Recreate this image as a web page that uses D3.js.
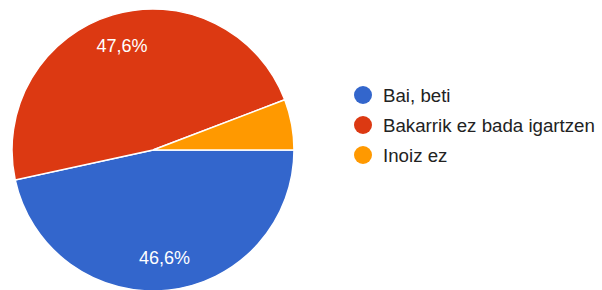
<!DOCTYPE html>
<html><head><meta charset="utf-8">
<script src="https://cdn.jsdelivr.net/npm/d3@7"></script>
<style>html,body{margin:0;padding:0;background:#fff;}svg{display:block;}</style>
</head><body>
<script>
const categories = ["Bai, beti", "Bakarrik ez bada igartzen", "Inoiz ez"];
const values = [46.6, 47.6, 5.8];
const labels = ["46,6%", "47,6%", ""];
const colors = ["#3366cc", "#dc3912", "#ff9900"];

const W = 602, H = 290;
const cx = 153, cy = 150, R = 141;
const FONT = "Arial, 'Liberation Sans', sans-serif";
const svg = d3.select("body").append("svg").attr("width", W).attr("height", H);

const pie = d3.pie().sort(null).value(d => d)
  .startAngle(Math.PI / 2).endAngle(Math.PI / 2 + 2 * Math.PI);
const arcs = pie(values);
const arc = d3.arc().innerRadius(0).outerRadius(R);
const labelArc = d3.arc().innerRadius(R * 0.77).outerRadius(R * 0.77);

const g = svg.append("g").attr("transform", `translate(${cx},${cy})`);
g.selectAll("path").data(arcs).join("path")
  .attr("d", arc).attr("fill", (d, i) => colors[i])
  .attr("stroke", "#fff").attr("stroke-width", 1.5);

g.selectAll("text").data(arcs).join("text")
  .attr("transform", d => { const c = labelArc.centroid(d); return `translate(${c[0]},${c[1] + 6.5})`; })
  .attr("text-anchor", "middle")
  .attr("fill", "#fff").attr("font-family", FONT)
  .attr("font-size", 18)
  .text((d, i) => labels[i]);

const legend = svg.append("g");
const ly = d3.scaleBand().domain(categories).range([80, 170]);
categories.forEach((c, i) => {
  const y = ly(c) + ly.bandwidth() / 2;
  legend.append("circle").attr("cx", 363).attr("cy", y).attr("r", 9).attr("fill", colors[i]);
  legend.append("text").attr("x", 383).attr("y", y + 6.7)
    .attr("font-family", FONT).attr("font-size", 18.7).attr("fill", "#222")
    .text(c);
});
</script>
</body></html>
